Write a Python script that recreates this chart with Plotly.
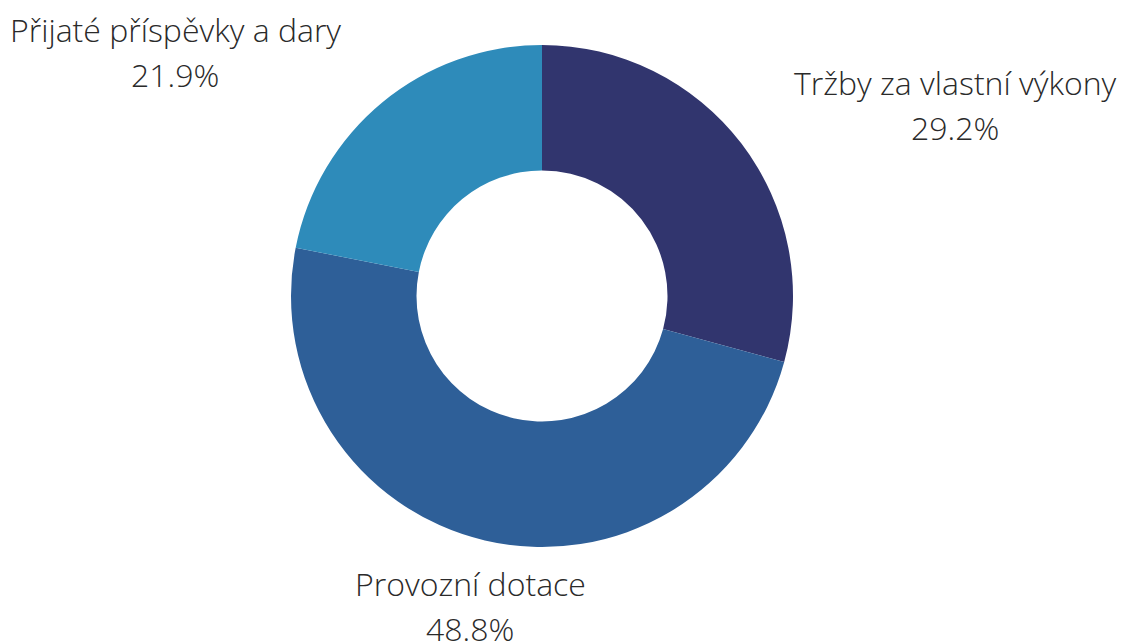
import plotly.graph_objects as go

labels = ["Tržby za vlastní výkony", "Provozní dotace", "Přijaté příspěvky a dary"]
values = [29.2, 48.8, 21.9]
colors = ["#31356e", "#2e5f98", "#2e8bba"]
percent_text = ["29.2%", "48.8%", "21.9%"]

W, H = 1121, 641
# label anchor centers in pixels (line 1 center, line 2 center)
label_pos = [(955, 82, 127), (470, 583, 628), (175, 30, 74)]

cx, cy, r = 542, 296, 251

fig = go.Figure(go.Pie(
    labels=labels,
    values=values,
    hole=0.5,
    sort=False,
    direction="clockwise",
    rotation=0,
    marker=dict(colors=colors, line=dict(color="white", width=0)),
    textinfo="none",
    hoverinfo="label+percent",
    domain=dict(x=[(cx - r) / W, (cx + r) / W], y=[(H - cy - r) / H, (H - cy + r) / H]),
    showlegend=False,
))

font = dict(family="Open Sans", size=32, color="#2a2a2a", weight=300)
for lab, pct, (x, y1, y2) in zip(labels, percent_text, label_pos):
    fig.add_annotation(x=x / W, y=1 - y1 / H, xref="paper", yref="paper", text=lab,
                       showarrow=False, font=font, xanchor="center", yanchor="middle")
    fig.add_annotation(x=x / W, y=1 - y2 / H, xref="paper", yref="paper", text=pct,
                       showarrow=False, font=font, xanchor="center", yanchor="middle")

fig.update_layout(
    width=W, height=H,
    margin=dict(l=0, r=0, t=0, b=0),
    paper_bgcolor="white",
    plot_bgcolor="white",
)

fig.write_html("out.html",
               config={"displayModeBar": False},
               post_script="document.body.style.margin='0';document.body.style.overflow='hidden';")
